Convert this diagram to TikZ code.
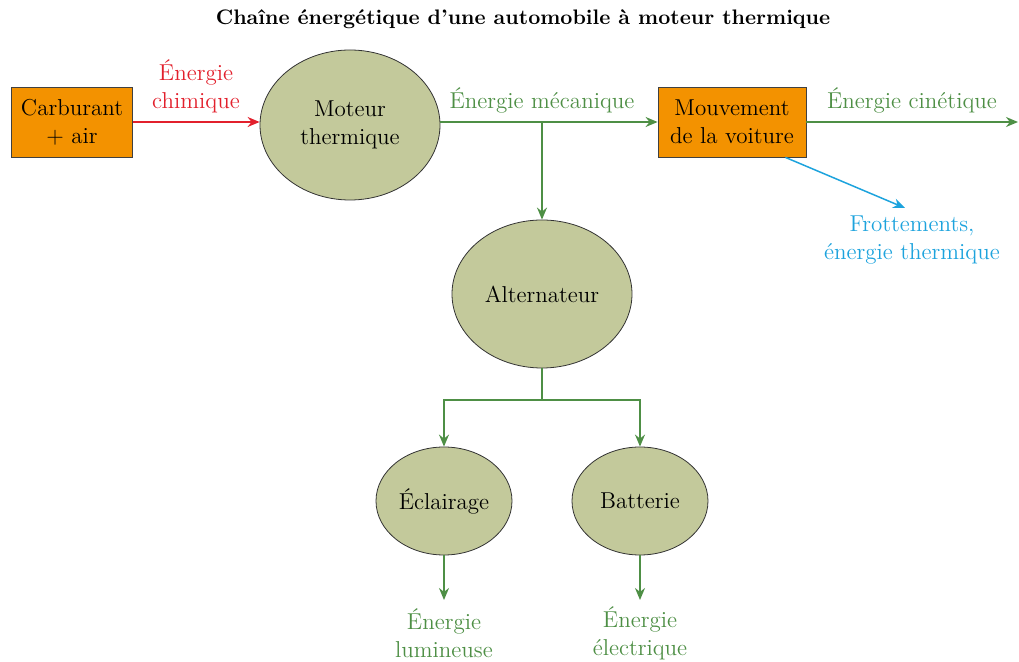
\documentclass[tikz,border=0pt]{standalone}
\usetikzlibrary{arrows.meta,shapes.geometric}
\definecolor{orangebox}{HTML}{F39200}
\definecolor{olive}{HTML}{C3C99B}
\definecolor{vert}{HTML}{4E8F45}
\definecolor{rouge}{HTML}{E2202C}
\definecolor{bleu}{HTML}{1DA3DD}
\begin{document}
\begin{tikzpicture}[x=0.5pt, y=-0.5pt,
      >={Stealth[length=6pt,width=5pt]},
      every node/.style={font=\fontsize{11.5}{14}\selectfont, align=center},
      boite/.style={draw=black!75, fill=orangebox, minimum width=60.5pt, minimum height=35pt, inner sep=0pt},
      conv/.style={draw=black!80, fill=olive, ellipse, inner sep=0pt},
      gros/.style={conv, minimum width=90pt, minimum height=75pt},
      petit/.style={conv, minimum width=68pt, minimum height=54pt},
      flux/.style={->, line width=0.75pt, draw=vert},
      txt/.style={text=vert}]

    \useasboundingbox (0,0) rectangle (1019,662);

    \node[font=\fontsize{10.5}{12}\selectfont\bfseries] (titre) at (523,19) {Chaîne énergétique d'une automobile à moteur thermique};

    \node[boite] (carbu) at (72,122) {Carburant\\+ air};
    \node[gros] (moteur) at (350,125) {Moteur\\thermique};
    \node[boite, minimum width=74pt] (voiture) at (732,122) {Mouvement\\de la voiture};
    \node[gros, minimum height=74pt] (alt) at (542,294) {Alternateur};
    \node[petit] (eclair) at (444,501) {Éclairage};
    \node[petit] (batt) at (640,501) {Batterie};

    \coordinate (j1) at (542,122);
    \coordinate (j2) at (542,400);
    \coordinate (sortie) at (1018,122);
    \coordinate (frott) at (905,208);
    \coordinate (lum) at (444,600);
    \coordinate (elec) at (640,600);

    \draw[->, line width=0.75pt, draw=rouge] (carbu.east) -- (carbu.east -| moteur.west);
    \draw[flux] (moteur.east |- voiture.west) -- (voiture.west);
    \draw[flux] (j1) -- (alt.north);
    \draw[flux] (voiture.east) -- (sortie);
    \draw[->, line width=0.75pt, draw=bleu] ([xshift=-10.5pt]voiture.south east) -- (frott);
    \draw[line width=0.75pt, draw=vert] (alt.south) -- (j2);
    \draw[flux] (j2) -| (eclair.north);
    \draw[flux] (j2) -| (batt.north);
    \draw[flux] (eclair.south) -- (lum);
    \draw[flux] (batt.south) -- (elec);

    \node[text=rouge] (chim) at (196,86) {Énergie\\chimique};
    \node[txt] (meca) at (542,100) {Énergie mécanique};
    \node[txt] (cine) at (912,100) {Énergie cinétique};
    \node[text=bleu] (therm) at (912,240) {Frottements,\\énergie thermique};
    \node[txt] (lumin) at (444,633) {Énergie\\lumineuse};
    \node[txt] (elect) at (640,633) {Énergie\\électrique};
  \end{tikzpicture}
\end{document}
